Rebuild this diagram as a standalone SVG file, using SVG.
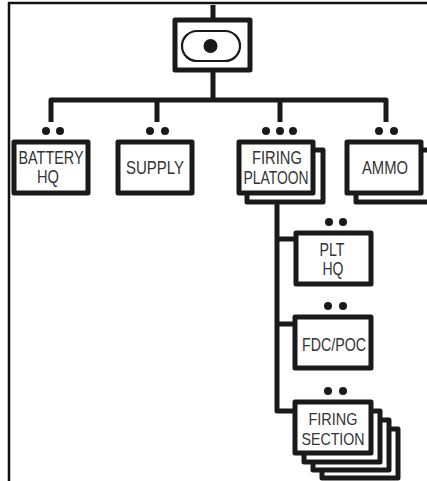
<svg xmlns="http://www.w3.org/2000/svg" width="427" height="481" viewBox="0 0 427 481">
<style>
.b{fill:#fff;stroke:#1a1a1a;stroke-width:5;stroke-linejoin:round}
.c{fill:none;stroke:#1a1a1a;stroke-width:5;stroke-linejoin:round}
.d{fill:#1a1a1a}
text{font-family:"Liberation Sans",Arial,sans-serif;font-size:18px;fill:#333;text-anchor:middle}
text.s{font-size:16.5px}
</style>
<rect width="427" height="481" fill="#fff"/>
<path id="frame" d="M9 481V3H427" fill="none" stroke="#111" stroke-width="2.5"/>
<g id="connectors">
<path class="c" d="M213 5V18M213 72V100M51 122V100H386V122M157 100V122M280 100V122M277 203V411H295M277 239H295M277 324H295"/>
</g>
<g id="hq">
<rect class="b" x="175" y="20" width="75" height="50"/>
<rect x="182" y="31" width="58" height="30" rx="15" fill="none" stroke="#1a1a1a" stroke-width="2.2"/>
<circle class="d" cx="210.500" cy="46" r="7"/>
</g>
<g id="battery-hq">
<circle class="d" cx="46" cy="131" r="4"/><circle class="d" cx="60" cy="131" r="4"/>
<rect class="b" x="14" y="142" width="74" height="51"/>
<text x="51" y="164" textLength="65" lengthAdjust="spacingAndGlyphs">BATTERY</text><text x="48" y="183" textLength="22" lengthAdjust="spacingAndGlyphs">HQ</text>
</g>
<g id="supply">
<circle class="d" cx="150" cy="131" r="4"/><circle class="d" cx="165" cy="131" r="4"/>
<rect class="b" x="118" y="142" width="74" height="51"/>
<text x="155" y="174" textLength="58" lengthAdjust="spacingAndGlyphs">SUPPLY</text>
</g>
<g id="firing-platoon">
<circle class="d" cx="266" cy="131" r="4"/><circle class="d" cx="280" cy="131" r="4"/><circle class="d" cx="293" cy="131" r="4"/>
<rect class="b" x="247" y="150" width="76" height="52"/>
<rect class="b" x="239" y="142" width="74" height="51"/>
<text x="277" y="164" textLength="50" lengthAdjust="spacingAndGlyphs">FIRING</text><text x="276" y="184" textLength="65" lengthAdjust="spacingAndGlyphs">PLATOON</text>
</g>
<g id="ammo">
<circle class="d" cx="379" cy="131" r="4"/><circle class="d" cx="394" cy="131" r="4"/>
<rect class="b" x="356" y="150" width="76" height="52"/>
<rect class="b" x="347" y="142" width="74" height="51"/>
<text x="385" y="174" textLength="46" lengthAdjust="spacingAndGlyphs">AMMO</text>
</g>
<g id="plt-hq">
<circle class="d" cx="329" cy="222" r="4"/><circle class="d" cx="343" cy="222" r="4"/>
<rect class="b" x="296" y="233" width="75" height="51"/>
<text x="332" y="256" textLength="25" lengthAdjust="spacingAndGlyphs">PLT</text><text x="333" y="275" textLength="21" lengthAdjust="spacingAndGlyphs">HQ</text>
</g>
<g id="fdc-poc">
<circle class="d" cx="328" cy="306" r="4"/><circle class="d" cx="343" cy="306" r="4"/>
<rect class="b" x="295" y="317" width="76" height="51"/>
<text x="334" y="351" textLength="64" lengthAdjust="spacingAndGlyphs">FDC/POC</text>
</g>
<g id="firing-section">
<circle class="d" cx="328" cy="391" r="4"/><circle class="d" cx="343" cy="391" r="4"/>
<rect class="b" x="322" y="429" width="76" height="49"/>
<rect class="b" x="313" y="420" width="76" height="50"/>
<rect class="b" x="304" y="411" width="76" height="51"/>
<rect class="b" x="295" y="402" width="76" height="51"/>
<text class="s" x="333" y="425" textLength="49" lengthAdjust="spacingAndGlyphs">FIRING</text><text class="s" x="333" y="445" textLength="63" lengthAdjust="spacingAndGlyphs">SECTION</text>
</g>
</svg>
